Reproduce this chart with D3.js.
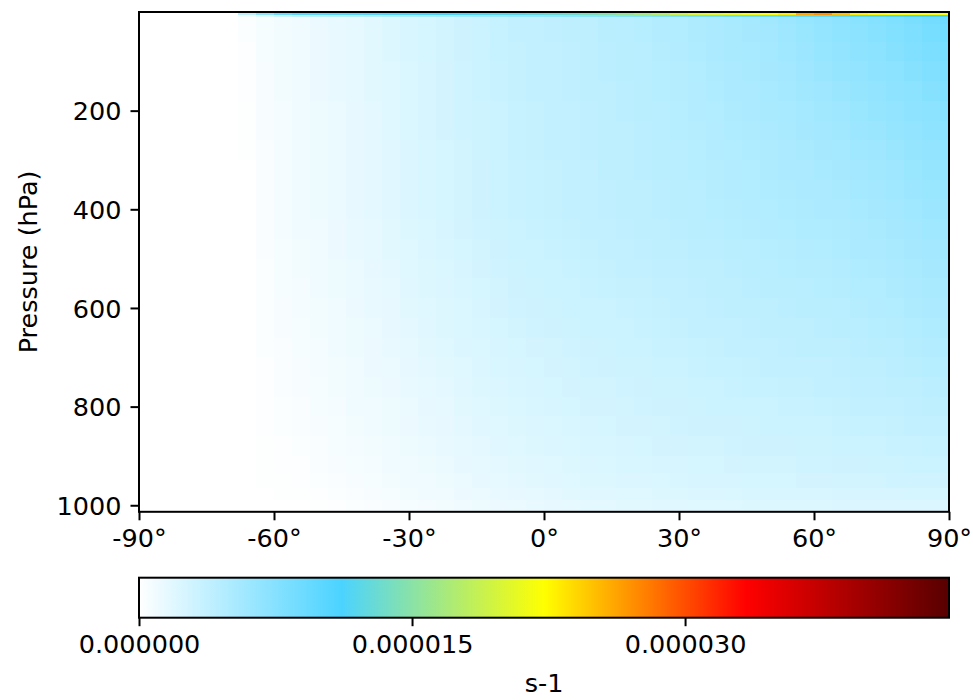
<!DOCTYPE html>
<html>
<head>
<meta charset="utf-8">
<script src="https://cdn.jsdelivr.net/npm/d3@7"></script>
<style>
  html, body { margin: 0; padding: 0; background: #fff; }
  svg { display: block; }
  text { font-family: "DejaVu Sans", sans-serif; fill: #000; }
</style>
</head>
<body>
<svg id="chart" width="973" height="700"></svg>
<script>
// ---------------- data ----------------
const latitudes = [-90,-86,-82,-78,-74,-70,-66,-62,-58,-54,-50,-46,-42,-38,-34,-30,-26,-22,-18,-14,-10,-6,-2,2,6,10,14,18,22,26,30,34,38,42,46,50,54,58,62,66,70,74,78,82,86,90];
const pressureEdges = [0.01, 6, 11, 25, 60, 100, 140, 180, 220, 260, 300, 340, 380, 420, 460, 500, 540, 580, 620, 660, 700, 740, 780, 820, 860, 900, 935, 965, 990, 1013.25];
const valueUnit = 1e-7; // values below are in units of 1e-7 s-1
const valueRows = [
"0 0 0 0 0 0 40 70 90 100 100 102 104 105 106 108 110 112 114 116 118 120 124 128 132 138 145 155 165 175 190 200 205 210 215 220 230 260 270 250 230 225 220 220 220 220",
"0 0 0 0 0 0 10 20 30 38 40 42 44 46 48 50 52 54 56 58 60 62 64 66 68 70 72 74 76 78 80 82 84 86 88 90 93 96 98 100 102 104 106 108 110 112",
"0 0 0 0 0 0 3 6 8 10 12 14 16 18 21 24 26 28 30 33 35 37 38 39 40 41 43 44 45 47 48 50 52 54 56 58 61 64 67 70 73 76 79 82 86 89",
"0 0 0 0 0 0 3 6 8 10 12 14 16 18 21 24 26 28 30 33 35 37 38 39 40 41 43 44 45 47 48 50 51 53 55 57 60 63 66 69 71 74 77 80 84 87",
"0 0 0 0 0 0 2 6 8 10 12 14 16 18 21 24 26 28 30 32 35 36 37 38 39 40 42 43 44 46 47 49 51 53 54 56 59 61 64 67 70 72 75 78 81 84",
"0 0 0 0 0 0 2 5 8 10 12 14 16 18 20 23 25 27 29 32 34 36 37 38 39 40 42 43 44 45 46 48 50 52 53 55 57 60 62 65 67 70 72 75 78 81",
"0 0 0 0 0 0 2 5 8 10 12 14 16 18 20 23 25 27 29 32 34 36 37 38 39 40 41 42 43 45 46 47 49 51 52 54 56 58 60 62 65 67 70 72 75 78",
"0 0 0 0 0 0 1 5 7 9 11 13 15 17 20 23 25 27 29 31 33 35 36 37 38 39 41 42 43 44 45 47 48 50 51 53 54 56 58 60 63 65 67 70 72 74",
"0 0 0 0 0 0 1 5 7 9 11 13 15 17 20 23 25 27 29 31 33 35 36 37 38 39 40 41 42 44 45 46 47 49 50 51 53 55 57 58 61 62 65 67 70 71",
"0 0 0 0 0 0 1 4 7 9 11 13 15 17 19 22 24 26 28 31 33 35 36 37 38 39 40 41 42 43 44 45 47 48 49 50 52 53 55 56 59 60 62 65 67 69",
"0 0 0 0 0 0 0 4 7 9 11 13 15 17 19 22 24 26 28 30 32 34 35 36 37 38 40 41 42 43 44 45 46 47 48 50 51 52 54 55 57 58 60 63 65 66",
"0 0 0 0 0 0 0 4 7 9 11 13 15 17 19 22 24 26 28 30 32 34 35 36 37 38 39 40 41 42 43 44 46 47 48 49 50 51 52 53 56 57 59 61 63 64",
"0 0 0 0 0 0 0 4 7 9 11 13 15 17 19 22 24 26 28 30 32 34 35 36 37 38 39 40 41 42 43 44 45 46 47 48 49 50 51 52 54 55 57 59 61 62",
"0 0 0 0 0 0 0 4 7 9 10 12 14 16 18 21 23 25 27 29 31 33 34 35 36 37 38 39 40 41 42 43 44 45 46 47 48 49 49 50 52 53 55 57 59 60",
"0 0 0 0 0 0 0 4 6 8 10 12 14 16 18 20 22 24 26 28 30 32 33 34 35 36 37 38 39 40 41 42 42 43 44 45 46 47 48 49 51 52 53 55 57 58",
"0 0 0 0 0 0 0 3 6 8 9 11 13 15 17 20 21 23 25 27 29 31 32 33 34 35 36 37 38 39 39 40 41 42 43 44 45 46 46 47 49 50 52 53 55 56",
"0 0 0 0 0 0 0 3 6 7 9 11 13 14 16 19 21 22 24 26 28 30 31 32 33 34 35 36 36 37 38 39 40 41 42 43 43 44 45 46 48 48 50 52 53 54",
"0 0 0 0 0 0 0 3 5 7 8 10 12 14 15 18 20 21 23 25 27 29 30 31 32 33 33 34 35 36 37 38 39 40 40 41 42 43 43 44 46 47 48 50 51 52",
"0 0 0 0 0 0 0 3 5 6 8 10 11 13 15 17 19 21 23 24 26 28 29 30 31 32 32 33 34 35 36 37 37 38 39 40 41 41 42 43 44 45 46 48 49 50",
"0 0 0 0 0 0 0 3 4 6 7 9 11 12 14 16 18 20 22 23 25 26 27 28 29 30 31 32 33 34 34 35 36 37 38 38 39 40 40 41 42 43 44 46 47 48",
"0 0 0 0 0 0 0 2 4 5 7 8 10 12 13 15 17 18 20 22 24 25 26 27 28 29 30 31 31 32 33 34 35 35 36 37 37 38 38 39 41 41 42 43 45 45",
"0 0 0 0 0 0 0 2 4 5 6 8 9 11 12 14 16 17 19 21 22 24 25 26 27 28 28 29 30 31 31 32 33 34 35 35 36 36 37 38 39 39 40 41 42 43",
"0 0 0 0 0 0 0 2 3 4 6 7 9 10 11 13 15 16 18 20 21 23 24 25 26 27 27 28 29 30 30 31 32 32 33 33 34 34 35 36 37 37 38 39 40 40",
"0 0 0 0 0 0 0 2 3 4 5 6 8 9 11 12 14 15 17 19 20 21 22 23 24 25 26 27 27 28 29 30 30 30 31 32 32 33 33 34 35 35 36 37 38 38",
"0 0 0 0 0 0 0 1 2 3 4 6 7 8 10 11 13 14 16 17 19 20 21 22 23 24 24 25 26 27 27 28 28 29 30 30 30 31 31 32 33 33 34 34 35 35",
"0 0 0 0 0 0 0 1 2 2 4 5 6 7 9 10 11 13 15 16 17 18 19 20 21 22 23 24 24 25 25 26 26 27 28 28 28 29 29 30 30 31 31 32 32 32",
"0 0 0 0 0 0 0 1 1 2 3 4 5 6 8 9 10 11 13 15 16 17 18 19 20 21 21 22 22 23 24 25 25 25 26 26 26 27 27 28 28 28 29 29 29 30",
"0 0 0 0 0 0 0 0 1 1 2 3 4 5 6 8 9 10 12 13 14 15 16 17 18 19 19 20 20 21 21 22 22 23 24 24 24 24 24 25 25 25 25 26 26 26",
"0 0 0 0 0 0 0 0 0 0 1 2 3 4 5 6 7 8 10 11 12 13 14 15 16 17 17 18 18 19 19 20 20 20 21 21 21 21 21 22 22 22 22 22 22 22"
];
const xTicks = [-90, -60, -30, 0, 30, 60, 90];
const yTicks = [200, 400, 600, 800, 1000];
const cbarTicks = [0, 0.000015, 0.00003];
const vMin = 0, vMax = 4.45e-5;
const colorStops = ["#ffffff", "#4bd3ff", "#ffff00", "#ff0000", "#580000"];
const yLabel = "Pressure (hPa)";
const cbarLabel = "s-1";

// ---------------- layout ----------------
const svg = d3.select("#chart");
const plot = { left: 139, right: 949, top: 12, bottom: 511.8 };
const cbar = { left: 139, right: 949, top: 577.7, bottom: 617.7 };
const FS = 25.5;
const LW = 2;
const TL = 8.5;

const x = d3.scaleLinear().domain([-90, 90]).range([plot.left, plot.right]);
const y = d3.scaleLinear().domain([pressureEdges[0], pressureEdges[pressureEdges.length - 1]]).range([plot.top, plot.bottom]);
const color = d3.scaleLinear()
  .domain(colorStops.map((_, i) => vMin + (vMax - vMin) * i / (colorStops.length - 1)))
  .range(colorStops).interpolate(d3.interpolateRgb).clamp(true);

// cells
const cells = [];
valueRows.forEach((row, ri) => {
  const vals = row.trim().split(/\s+/).map(Number);
  vals.forEach((v, ci) => {
    const lat = latitudes[ci];
    const lo = Math.max(-90, lat - 2), hi = Math.min(90, lat + 2);
    cells.push({ lo, hi, pTop: pressureEdges[ri], pBot: pressureEdges[ri + 1], v: v * valueUnit });
  });
});

svg.append("g").selectAll("rect").data(cells).join("rect")
  .attr("x", d => x(d.lo))
  .attr("y", d => y(d.pTop))
  .attr("width", d => x(d.hi) - x(d.lo))
  .attr("height", d => y(d.pBot) - y(d.pTop))
  .attr("fill", d => color(d.v))
  .attr("shape-rendering", "crispEdges");

// axes
const xAxis = d3.axisBottom(x).tickValues(xTicks).tickSize(TL).tickPadding(8)
  .tickFormat(d => (d < 0 ? "-" + Math.abs(d) : d) + "°");
const gx = svg.append("g").attr("transform", `translate(0,${plot.bottom})`).call(xAxis);
const yAxis = d3.axisLeft(y).tickValues(yTicks).tickSize(TL).tickPadding(9).tickFormat(d3.format("d"));
const gy = svg.append("g").attr("transform", `translate(${plot.left},0)`).call(yAxis);
[gx, gy].forEach(g => {
  g.select(".domain").remove();
  g.selectAll(".tick line").attr("stroke", "#000").attr("stroke-width", LW);
  g.selectAll(".tick text").attr("font-size", FS).attr("font-family", "DejaVu Sans").attr("fill", "#000");
});
gx.selectAll(".tick text").attr("dy", null).attr("y", TL + 8 + 19);
gy.selectAll(".tick text").attr("dy", "0.36em");

// frame
svg.append("rect")
  .attr("x", plot.left).attr("y", plot.top)
  .attr("width", plot.right - plot.left).attr("height", plot.bottom - plot.top)
  .attr("fill", "none").attr("stroke", "#000").attr("stroke-width", LW);

// y label
svg.append("text")
  .attr("transform", `translate(37,${(plot.top + plot.bottom) / 2}) rotate(-90)`)
  .attr("text-anchor", "middle").attr("font-size", FS).text(yLabel);

// colorbar
const defs = svg.append("defs");
const grad = defs.append("linearGradient").attr("id", "cbgrad").attr("x1", "0%").attr("x2", "100%").attr("y1", "0%").attr("y2", "0%");
colorStops.forEach((c, i) => grad.append("stop").attr("offset", (100 * i / (colorStops.length - 1)) + "%").attr("stop-color", c));
svg.append("rect")
  .attr("x", cbar.left).attr("y", cbar.top)
  .attr("width", cbar.right - cbar.left).attr("height", cbar.bottom - cbar.top)
  .attr("fill", "url(#cbgrad)").attr("stroke", "#000").attr("stroke-width", LW);

const cx = d3.scaleLinear().domain([vMin, vMax]).range([cbar.left, cbar.right]);
const cAxis = d3.axisBottom(cx).tickValues(cbarTicks).tickSize(TL).tickPadding(8).tickFormat(d => d.toFixed(6));
const gc = svg.append("g").attr("transform", `translate(0,${cbar.bottom})`).call(cAxis);
gc.select(".domain").remove();
gc.selectAll(".tick line").attr("stroke", "#000").attr("stroke-width", LW);
gc.selectAll(".tick text").attr("font-size", FS).attr("font-family", "DejaVu Sans").attr("fill", "#000")
  .attr("dy", null).attr("y", TL + 8 + 19);

svg.append("text")
  .attr("x", (cbar.left + cbar.right) / 2).attr("y", 692)
  .attr("text-anchor", "middle").attr("font-size", FS).text(cbarLabel);
</script>
</body>
</html>
